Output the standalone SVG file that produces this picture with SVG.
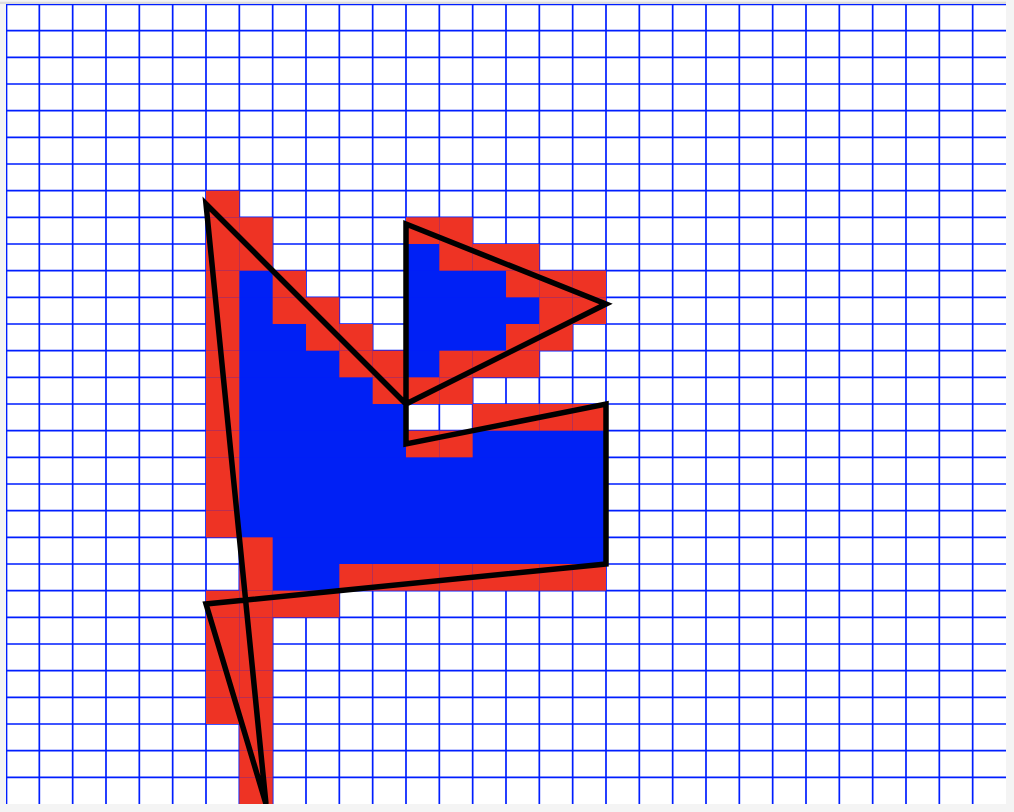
<svg xmlns="http://www.w3.org/2000/svg" width="1014" height="812" viewBox="0 0 1014 812">
  <defs>
    <style>
      .grid { stroke: #001eff; stroke-width: 1.7; fill: none; }
      .red { fill: #ee3324; }
      .blue { fill: #0020f5; }
      .poly { fill: none; stroke: #000; stroke-width: 5.5; stroke-linejoin: miter; stroke-miterlimit: 10; }
    </style>
    <rect id="c" x="0" y="0" width="33.333" height="26.667"/>
    <clipPath id="cv"><rect x="6" y="4" width="1000" height="800"/></clipPath>
  </defs>
  <rect x="0" y="0" width="1014" height="812" fill="#f4f4f4"/>
  <rect x="0" y="1.7" width="1006" height="2.3" fill="#dcdcdc"/>
  <rect id="canvas" x="6" y="4" width="1000" height="800" fill="#ffffff"/>
  <g clip-path="url(#cv)">
    <g id="grid">
      <path class="grid" d="M6.5,4V804M39.33,4V804M72.67,4V804M106,4V804M139.33,4V804M172.67,4V804M206,4V804M239.33,4V804M272.67,4V804M306,4V804M339.33,4V804M372.67,4V804M406,4V804M439.33,4V804M472.67,4V804M506,4V804M539.33,4V804M572.67,4V804M606,4V804M639.33,4V804M672.67,4V804M706,4V804M739.33,4V804M772.67,4V804M806,4V804M839.33,4V804M872.67,4V804M906,4V804M939.33,4V804M972.67,4V804"/>
      <path class="grid" d="M6,4.5H1006M6,30.67H1006M6,57.33H1006M6,84H1006M6,110.67H1006M6,137.33H1006M6,164H1006M6,190.67H1006M6,217.33H1006M6,244H1006M6,270.67H1006M6,297.33H1006M6,324H1006M6,350.67H1006M6,377.33H1006M6,404H1006M6,430.67H1006M6,457.33H1006M6,484H1006M6,510.67H1006M6,537.33H1006M6,564H1006M6,590.67H1006M6,617.33H1006M6,644H1006M6,670.67H1006M6,697.33H1006M6,724H1006M6,750.67H1006M6,777.33H1006"/>
    </g>
    <g id="blue-cells" class="blue">
      <rect x="406" y="244" width="33.333" height="26.667"/>
      <rect x="239.333" y="270.667" width="33.333" height="26.667"/>
      <rect x="406" y="270.667" width="100" height="26.667"/>
      <rect x="239.333" y="297.333" width="33.333" height="26.667"/>
      <rect x="406" y="297.333" width="133.333" height="26.667"/>
      <rect x="239.333" y="324" width="66.667" height="26.667"/>
      <rect x="406" y="324" width="100" height="26.667"/>
      <rect x="239.333" y="350.667" width="100" height="26.667"/>
      <rect x="406" y="350.667" width="33.333" height="26.667"/>
      <rect x="239.333" y="377.333" width="133.333" height="26.667"/>
      <rect x="239.333" y="404" width="166.667" height="26.667"/>
      <rect x="239.333" y="430.667" width="166.667" height="26.667"/>
      <rect x="472.667" y="430.667" width="133.333" height="26.667"/>
      <rect x="239.333" y="457.333" width="366.667" height="80"/>
      <rect x="272.667" y="537.333" width="333.333" height="26.667"/>
      <rect x="272.667" y="564" width="66.667" height="26.667"/>
    </g>
    <g id="red-cells" class="red">
      <use href="#c" x="206" y="190.667"/>
      <use href="#c" x="206" y="217.333"/><use href="#c" x="239.333" y="217.333"/><use href="#c" x="406" y="217.333"/><use href="#c" x="439.333" y="217.333"/>
      <use href="#c" x="206" y="244"/><use href="#c" x="239.333" y="244"/><use href="#c" x="439.333" y="244"/><use href="#c" x="472.667" y="244"/><use href="#c" x="506" y="244"/>
      <use href="#c" x="206" y="270.667"/><use href="#c" x="272.667" y="270.667"/><use href="#c" x="506" y="270.667"/><use href="#c" x="539.333" y="270.667"/><use href="#c" x="572.667" y="270.667"/>
      <use href="#c" x="206" y="297.333"/><use href="#c" x="272.667" y="297.333"/><use href="#c" x="306" y="297.333"/><use href="#c" x="539.333" y="297.333"/><use href="#c" x="572.667" y="297.333"/>
      <use href="#c" x="206" y="324"/><use href="#c" x="306" y="324"/><use href="#c" x="339.333" y="324"/><use href="#c" x="506" y="324"/><use href="#c" x="539.333" y="324"/>
      <use href="#c" x="206" y="350.667"/><use href="#c" x="339.333" y="350.667"/><use href="#c" x="372.667" y="350.667"/><use href="#c" x="439.333" y="350.667"/><use href="#c" x="472.667" y="350.667"/><use href="#c" x="506" y="350.667"/>
      <use href="#c" x="206" y="377.333"/><use href="#c" x="372.667" y="377.333"/><use href="#c" x="406" y="377.333"/><use href="#c" x="439.333" y="377.333"/>
      <use href="#c" x="206" y="404"/><use href="#c" x="472.667" y="404"/><use href="#c" x="506" y="404"/><use href="#c" x="539.333" y="404"/><use href="#c" x="572.667" y="404"/>
      <use href="#c" x="206" y="430.667"/><use href="#c" x="406" y="430.667"/><use href="#c" x="439.333" y="430.667"/>
      <use href="#c" x="206" y="457.333"/>
      <use href="#c" x="206" y="484"/>
      <use href="#c" x="206" y="510.667"/>
      <use href="#c" x="239.333" y="537.333"/>
      <use href="#c" x="239.333" y="564"/><use href="#c" x="339.333" y="564"/><use href="#c" x="372.667" y="564"/><use href="#c" x="406" y="564"/><use href="#c" x="439.333" y="564"/><use href="#c" x="472.667" y="564"/><use href="#c" x="506" y="564"/><use href="#c" x="539.333" y="564"/><use href="#c" x="572.667" y="564"/>
      <use href="#c" x="206" y="590.667"/><use href="#c" x="239.333" y="590.667"/><use href="#c" x="272.667" y="590.667"/><use href="#c" x="306" y="590.667"/>
      <use href="#c" x="206" y="617.333"/><use href="#c" x="239.333" y="617.333"/>
      <use href="#c" x="206" y="644"/><use href="#c" x="239.333" y="644"/>
      <use href="#c" x="206" y="670.667"/><use href="#c" x="239.333" y="670.667"/>
      <use href="#c" x="206" y="697.333"/><use href="#c" x="239.333" y="697.333"/>
      <use href="#c" x="239.333" y="724"/>
      <use href="#c" x="239.333" y="750.667"/>
      <use href="#c" x="239.333" y="777.333"/>
    </g>
    <g id="polygon">
      <path class="poly" d="M206,204 L406,404 L406,224 L606,304 L406,404 L406,444 L606,404 L606,564 L206,604 L266,804 Z"/>
    </g>
  </g>
</svg>
